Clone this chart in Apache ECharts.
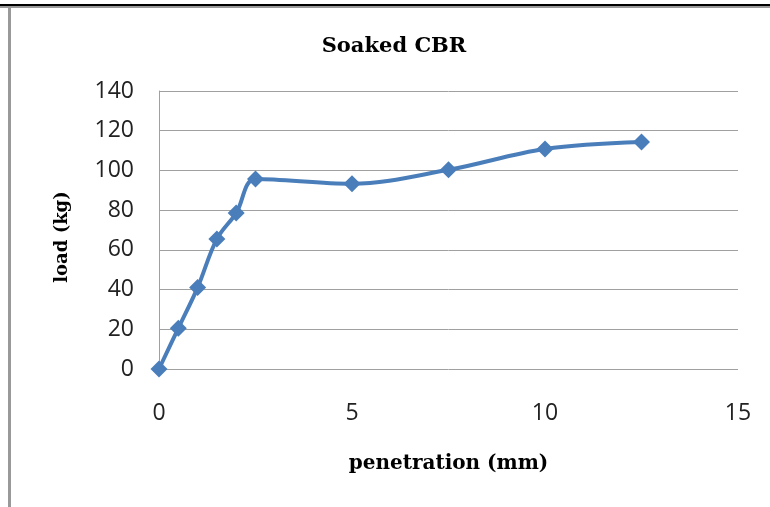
<!DOCTYPE html>
<html>
<head>
<meta charset="utf-8">
<script src="https://cdn.jsdelivr.net/npm/echarts@6/dist/echarts.min.js"></script>
<style>
  html, body { margin: 0; padding: 0; background: #fff; }
  #main { width: 770px; height: 507px; }
</style>
</head>
<body>
<div id="main"></div>
<script>
// readings
var penetration = [0, 0.5, 1, 1.5, 2, 2.5, 5, 7.5, 10, 12.5];
var load = [0, 20.5, 41, 65.5, 78.5, 95.7, 93.3, 100.3, 110.8, 114.3];
var xTicks = [0, 5, 10, 15];
var yTicks = [0, 20, 40, 60, 80, 100, 120, 140];

var points = penetration.map(function (p, i) { return [p, load[i]]; });

var serifBold = { fontFamily: 'DejaVu Serif', fontWeight: 'bold', color: '#000' };

var chart = echarts.init(document.getElementById('main'));
chart.setOption({
  animation: false,
  title: {
    text: 'Soaked CBR',
    left: 389, top: 31, textAlign: 'center',
    textStyle: Object.assign({ fontSize: 21 }, serifBold)
  },
  graphic: [
    { type: 'rect', shape: { x: 0, y: 4, width: 770, height: 2 }, style: { fill: '#000' } },
    { type: 'rect', shape: { x: 0, y: 6, width: 770, height: 2 }, style: { fill: '#9a9a9a' } },
    { type: 'rect', shape: { x: 8, y: 6, width: 3, height: 501 }, style: { fill: '#999' } },
    { type: 'text', x: 62, y: 237, rotation: Math.PI / 2,
      style: { text: 'load (kg)', align: 'center', verticalAlign: 'middle',
        font: 'bold 18px "DejaVu Serif"', fill: '#000' } }
  ],
  grid: { left: 159, right: 32, top: 91, bottom: 138 },
  xAxis: {
    type: 'value', min: 0, max: 15, interval: 5,
    name: 'penetration (mm)', nameLocation: 'middle', nameGap: 85,
    nameTextStyle: Object.assign({ fontSize: 20 }, serifBold),
    axisLine: { show: false }, axisTick: { show: false }, splitLine: { show: false },
    axisLabel: { margin: 33, fontFamily: 'Open Sans', fontSize: 23, color: '#222',
      formatter: function (v) { return xTicks.indexOf(v) >= 0 ? String(v) : ''; } }
  },
  yAxis: {
    type: 'value', min: 0, max: 140, interval: 20,
    axisLine: { show: true, lineStyle: { color: '#a0a0a0', width: 1 } },
    axisTick: { show: false },
    splitLine: { show: true, lineStyle: { color: '#a0a0a0', width: 1 } },
    axisLabel: { margin: 25, fontFamily: 'Open Sans', fontSize: 23, color: '#222',
      formatter: function (v) { return yTicks.indexOf(v) >= 0 ? String(v) : ''; } }
  },
  series: [{
    type: 'line',
    data: points,
    smooth: 0.35,
    symbol: 'diamond',
    symbolSize: 17,
    lineStyle: { color: '#4a7ebb', width: 4 },
    itemStyle: { color: '#4a7ebb' }
  }]
});
</script>
</body>
</html>
